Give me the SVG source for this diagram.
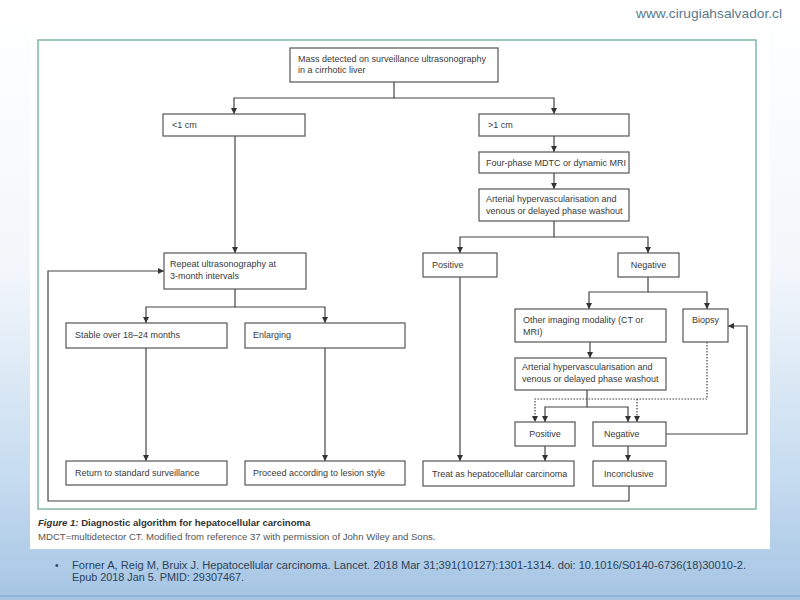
<svg xmlns="http://www.w3.org/2000/svg" width="800" height="600" viewBox="0 0 800 600">
<defs>
<linearGradient id="bg" x1="0" y1="0" x2="0" y2="1">
<stop offset="0" stop-color="#ffffff"/>
<stop offset="0.45" stop-color="#f3f7fb"/>
<stop offset="0.8" stop-color="#c5dbef"/>
<stop offset="1" stop-color="#a5c5e4"/>
</linearGradient>
<marker id="ah" markerUnits="userSpaceOnUse" markerWidth="7" markerHeight="7" refX="6" refY="3" orient="auto">
<path d="M0,0 L6,3 L0,6 z" fill="#333"/>
</marker>
<style>
.box{fill:#fff;stroke:#555;stroke-width:1.2}
.t{font-family:"Liberation Sans",Arial,sans-serif;font-size:9px;fill:#3a3a3a}
.c{fill:none;stroke:#444;stroke-width:1.2}
.d{fill:none;stroke:#444;stroke-width:1.2;stroke-dasharray:1.5 1.5}
.cap{font-family:"Liberation Sans",Arial,sans-serif}
</style>
</defs>
<rect x="0" y="0" width="800" height="600" fill="url(#bg)"/>
<rect x="0" y="595" width="800" height="2" fill="#8fb3d8"/>
<text x="636" y="18" class="cap" font-size="13.5" fill="#5b7b8c" textLength="146" lengthAdjust="spacingAndGlyphs">www.cirugiahsalvador.cl</text>
<rect x="30" y="30" width="740" height="519" fill="#fff"/>
<rect x="38" y="40" width="718" height="469" fill="none" stroke="#7fb8a0" stroke-width="1.5"/>

<g id="connectors">
<path class="c" d="M394,82 V98 H234 V114" marker-end="url(#ah)"/>
<path class="c" d="M394,98 H554 V114" marker-end="url(#ah)"/>
<path class="c" d="M235,136 V253" marker-end="url(#ah)"/>
<path class="c" d="M554,136 V152" marker-end="url(#ah)"/>
<path class="c" d="M554,173 V189" marker-end="url(#ah)"/>
<path class="c" d="M554,221 V237 H460 V253" marker-end="url(#ah)"/>
<path class="c" d="M554,237 H648 V253" marker-end="url(#ah)"/>
<path class="c" d="M460,277 V461" marker-end="url(#ah)"/>
<path class="c" d="M648,277 V292 H589 V309" marker-end="url(#ah)"/>
<path class="c" d="M648,292 H707 V309" marker-end="url(#ah)"/>
<path class="c" d="M590,342 V358" marker-end="url(#ah)"/>
<path class="c" d="M587,390 V407 H545 V422" marker-end="url(#ah)"/>
<path class="c" d="M587,407 H628 V422" marker-end="url(#ah)"/>
<path class="d" d="M707,342 V399 H535 V422" marker-end="url(#ah)"/>
<path class="d" d="M637,399 V422" marker-end="url(#ah)"/>
<path class="c" d="M666,434 H747 V326 H728" marker-end="url(#ah)"/>
<path class="c" d="M545,446 V461" marker-end="url(#ah)"/>
<path class="c" d="M628,446 V461" marker-end="url(#ah)"/>
<path class="c" d="M629,486 V501 H48 V271 H164" marker-end="url(#ah)"/>
<path class="c" d="M235,289 V307 H146 V323" marker-end="url(#ah)"/>
<path class="c" d="M235,307 H325 V323" marker-end="url(#ah)"/>
<path class="c" d="M146,348 V461" marker-end="url(#ah)"/>
<path class="c" d="M325,348 V461" marker-end="url(#ah)"/>
</g>

<g id="mass"><rect class="box" x="290" y="48" width="208" height="34"/>
<text class="t" x="298" y="62">Mass detected on surveillance ultrasonography</text>
<text class="t" x="298" y="73">in a cirrhotic liver</text></g>
<g id="lt1"><rect class="box" x="163" y="114" width="142" height="22"/>
<text class="t" x="172" y="128">&lt;1 cm</text></g>
<g id="gt1"><rect class="box" x="479" y="114" width="150" height="22"/>
<text class="t" x="488" y="128">&gt;1 cm</text></g>
<g id="fourphase"><rect class="box" x="479" y="152" width="150" height="21"/>
<text class="t" x="486" y="165.5">Four-phase MDTC or dynamic MRI</text></g>
<g id="arterial1"><rect class="box" x="479" y="189" width="150" height="32"/>
<text class="t" x="486" y="202">Arterial hypervascularisation and</text>
<text class="t" x="486" y="214">venous or delayed phase washout</text></g>
<g id="repeat"><rect class="box" x="164" y="253" width="142" height="36"/>
<text class="t" x="170" y="267">Repeat  ultrasonography at</text>
<text class="t" x="170" y="279">3-month intervals</text></g>
<g id="positive1"><rect class="box" x="423" y="253" width="74" height="24"/>
<text class="t" x="432" y="268">Positive</text></g>
<g id="negative1"><rect class="box" x="618" y="253" width="61" height="24"/>
<text class="t" x="648.5" y="268" text-anchor="middle">Negative</text></g>
<g id="stable"><rect class="box" x="66" y="323" width="161" height="25"/>
<text class="t" x="75" y="338">Stable over 18–24 months</text></g>
<g id="enlarging"><rect class="box" x="245" y="323" width="160" height="25"/>
<text class="t" x="253" y="338">Enlarging</text></g>
<g id="otherimaging"><rect class="box" x="515" y="309" width="151" height="33"/>
<text class="t" x="523" y="323">Other imaging modality (CT or</text>
<text class="t" x="523" y="335">MRI)</text></g>
<g id="biopsy"><rect class="box" x="683" y="309" width="45" height="33"/>
<text class="t" x="705.5" y="323" text-anchor="middle">Biopsy</text></g>
<g id="arterial2"><rect class="box" x="515" y="358" width="151" height="32"/>
<text class="t" x="522" y="370">Arterial hypervascularisation and</text>
<text class="t" x="522" y="382">venous or delayed phase washout</text></g>
<g id="positive2"><rect class="box" x="515" y="422" width="60" height="24"/>
<text class="t" x="545" y="437" text-anchor="middle">Positive</text></g>
<g id="negative2"><rect class="box" x="593" y="422" width="73" height="24"/>
<text class="t" x="604" y="437">Negative</text></g>
<g id="return"><rect class="box" x="66" y="461" width="161" height="24"/>
<text class="t" x="75" y="476">Return to standard surveillance</text></g>
<g id="proceed"><rect class="box" x="245" y="461" width="160" height="24"/>
<text class="t" x="253" y="476">Proceed according to lesion style</text></g>
<g id="treat"><rect class="box" x="423" y="461" width="151" height="25"/>
<text class="t" x="432" y="476.5">Treat as hepatocellular carcinoma</text></g>
<g id="inconclusive"><rect class="box" x="593" y="461" width="73" height="25"/>
<text class="t" x="604" y="476.5">Inconclusive</text></g>

<text class="cap" x="38" y="526" font-size="9.6" font-weight="bold" fill="#333"><tspan font-style="italic">Figure 1:</tspan> Diagnostic algorithm for hepatocellular carcinoma</text>
<text class="cap" x="38" y="540" font-size="9.6" fill="#555">MDCT=multidetector CT. Modified from reference 37 with permission of John Wiley and Sons.</text>

<text class="cap" x="55" y="569" font-size="10" fill="#2d4256">•</text>
<text class="cap" x="72" y="569" font-size="10" fill="#2d4256" textLength="674" lengthAdjust="spacingAndGlyphs">Forner A, Reig M, Bruix J. Hepatocellular carcinoma. Lancet. 2018 Mar 31;391(10127):1301-1314.   doi: 10.1016/S0140-6736(18)30010-2.</text>
<text class="cap" x="72" y="581" font-size="10" fill="#2d4256" textLength="172" lengthAdjust="spacingAndGlyphs">Epub 2018  Jan 5.  PMID: 29307467.</text>
</svg>
